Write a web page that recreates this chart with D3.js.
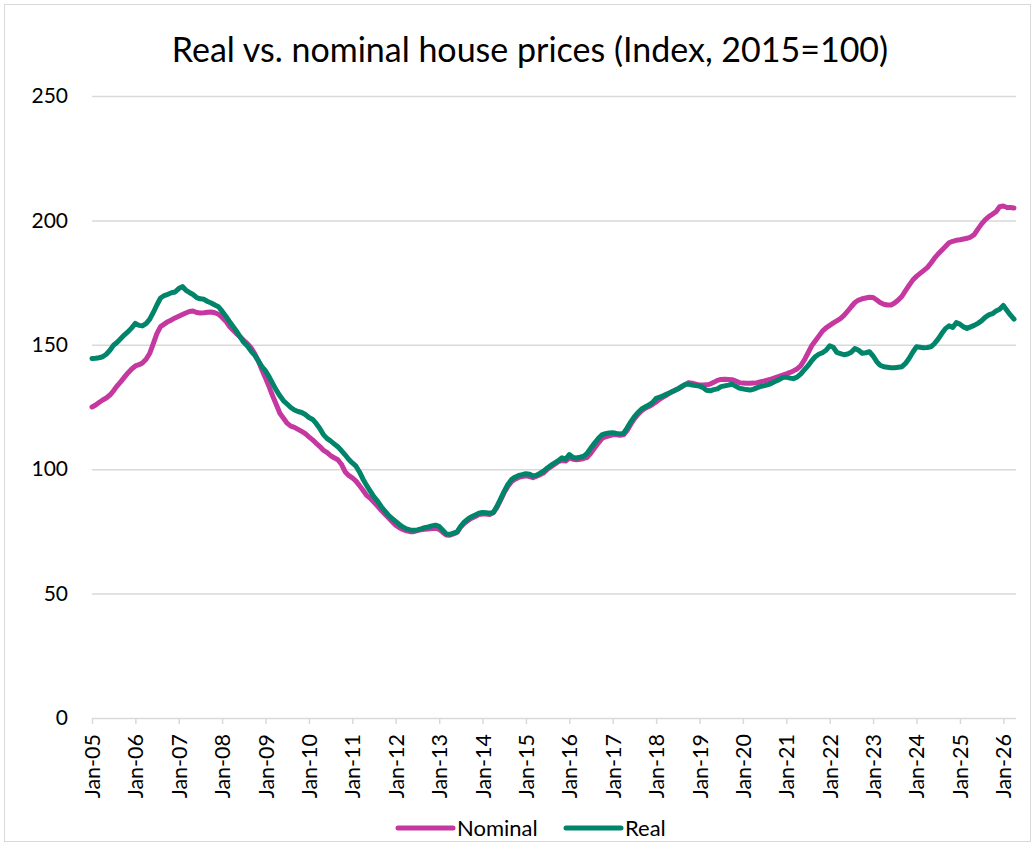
<!DOCTYPE html>
<html>
<head>
<meta charset="utf-8">
<script src="https://cdn.jsdelivr.net/npm/d3@7"></script>
<style>
  body { margin: 0; background: #fff; }
  svg text { font-family: Lato, "Open Sans", sans-serif; fill: #000; }
</style>
</head>
<body>
<svg id="chart" width="1035" height="846"></svg>
<script>
// monthly index values, Jan-05 .. Apr-26 (2015=100)
var nominal = [
  125.0, 125.8, 126.8, 127.8, 128.6, 129.8, 131.5, 133.5, 135.2, 137.0, 138.8, 140.3, // 2005
  141.5, 142.0, 142.7, 144.2, 146.5, 150.5, 154.5, 157.3, 158.3, 159.3, 160.0, 160.8, // 2006
  161.5, 162.2, 162.8, 163.4, 163.6, 163.0, 162.8, 162.9, 163.1, 163.2, 162.9, 162.3, // 2007
  161.0, 159.5, 157.5, 156.0, 154.5, 153.2, 151.8, 150.5, 148.8, 146.5, 143.5, 140.0, // 2008
  136.5, 133.0, 129.5, 126.0, 122.5, 120.5, 118.5, 117.3, 116.8, 116.0, 115.2, 114.3, // 2009
  113.0, 111.8, 110.5, 109.2, 107.7, 106.8, 105.5, 104.6, 103.8, 102.0, 99.0, 97.5,   // 2010
  96.5, 95.2, 93.5, 91.5, 89.5, 88.3, 86.8, 85.2, 83.5, 82.0, 80.5, 79.0,             // 2011
  77.5, 76.5, 75.8, 75.2, 74.9, 74.9, 75.3, 75.7, 75.9, 76.0, 76.2, 76.3,             // 2012
  75.8, 74.6, 73.6, 73.5, 74.0, 74.6, 76.8, 78.3, 79.4, 80.3, 81.0, 81.8,             // 2013
  82.0, 82.0, 81.8, 82.5, 84.5, 87.5, 90.5, 93.0, 95.0, 96.0, 96.7, 97.0,             // 2014
  97.3, 97.0, 96.6, 97.2, 97.8, 98.6, 100.0, 101.0, 102.0, 103.0, 103.5, 103.3,       // 2015
  104.5, 104.0, 103.8, 104.0, 104.3, 104.8, 106.5, 108.5, 110.5, 112.3, 113.0, 113.4, // 2016
  113.8, 113.8, 113.6, 113.8, 115.5, 118.0, 120.2, 122.0, 123.5, 124.5, 125.2, 126.0, // 2017
  127.0, 128.2, 129.0, 129.8, 130.8, 131.5, 132.2, 133.0, 134.0, 134.8, 134.6, 134.2, // 2018
  133.8, 133.8, 133.9, 134.2, 134.9, 135.7, 136.1, 136.2, 136.1, 136.0, 135.5, 134.8, // 2019
  134.6, 134.5, 134.5, 134.6, 134.8, 135.2, 135.5, 135.9, 136.3, 136.8, 137.3, 137.8, // 2020
  138.3, 138.9, 139.5, 140.3, 141.5, 143.8, 146.6, 149.5, 151.5, 153.5, 155.5, 156.8, // 2021
  157.8, 158.8, 159.6, 160.5, 161.8, 163.5, 165.3, 167.0, 168.0, 168.5, 168.8, 169.1, // 2022
  169.0, 168.0, 167.0, 166.3, 166.0, 166.0, 166.8, 168.0, 169.5, 171.8, 174.0, 176.0, // 2023
  177.5, 178.7, 179.8, 181.0, 182.8, 184.8, 186.5, 188.0, 189.5, 191.0, 191.6, 192.0, // 2024
  192.2, 192.5, 192.8, 193.3, 194.3, 196.5, 198.5, 200.2, 201.5, 202.5, 203.5, 205.5, // 2025
  205.8, 205.2, 205.2, 205.0                                                          // 2026
];

var real = [
  144.5, 144.6, 144.8, 145.2, 146.2, 147.8, 149.8, 151.0, 152.5, 154.0, 155.3, 156.8, // 2005
  158.6, 157.8, 157.6, 158.5, 160.2, 163.0, 166.0, 168.8, 169.8, 170.3, 170.9, 171.2, // 2006
  172.6, 173.4, 172.0, 171.0, 170.2, 169.0, 168.5, 168.3, 167.4, 166.8, 166.0, 165.3, // 2007
  163.5, 161.5, 159.5, 157.5, 155.5, 153.2, 151.0, 149.5, 147.5, 145.8, 143.5, 141.2, // 2008
  139.5, 137.0, 134.5, 131.8, 129.5, 127.5, 126.2, 124.8, 123.8, 123.2, 122.8, 122.0, // 2009
  120.8, 120.0, 118.5, 116.5, 114.0, 112.4, 111.4, 110.2, 109.0, 107.5, 105.8, 104.0, // 2010
  102.5, 101.2, 99.0, 96.0, 93.5, 91.2, 89.0, 87.2, 85.0, 83.2, 81.5, 80.2,           // 2011
  79.0, 77.8, 76.8, 76.0, 75.6, 75.5, 75.6, 76.0, 76.5, 76.8, 77.2, 77.5,             // 2012
  77.0, 75.5, 74.0, 73.8, 74.3, 74.8, 77.0, 78.8, 80.0, 80.9, 81.6, 82.3,             // 2013
  82.6, 82.5, 82.3, 82.6, 85.0, 88.0, 91.0, 93.8, 95.8, 96.8, 97.5, 97.8,             // 2014
  98.2, 98.0, 97.2, 97.6, 98.4, 99.3, 100.5, 101.6, 102.5, 103.4, 104.6, 104.0,       // 2015
  105.9, 104.7, 104.5, 104.8, 105.2, 106.5, 108.5, 110.5, 112.3, 113.8, 114.3, 114.6, // 2016
  114.7, 114.4, 114.2, 114.4, 116.5, 119.0, 121.0, 122.8, 124.2, 125.0, 125.8, 126.8, // 2017
  128.5, 129.0, 129.5, 130.2, 130.8, 131.5, 132.2, 133.2, 134.0, 134.2, 133.8, 133.6, // 2018
  133.4, 132.8, 131.7, 131.5, 132.0, 132.3, 133.2, 133.5, 133.8, 134.2, 133.4, 132.6, // 2019
  132.3, 132.0, 131.8, 132.2, 132.8, 133.3, 133.6, 134.0, 134.6, 135.3, 136.0, 136.8, // 2020
  137.0, 136.6, 136.4, 137.0, 138.2, 139.9, 141.5, 143.5, 145.2, 146.2, 146.8, 147.8, // 2021
  149.6, 149.0, 147.0, 146.5, 146.0, 146.3, 147.0, 148.5, 147.8, 146.6, 146.8, 147.2, // 2022
  145.5, 143.2, 141.8, 141.2, 141.0, 140.8, 140.8, 141.0, 141.2, 142.5, 144.6, 147.0, // 2023
  149.2, 149.0, 148.8, 148.9, 149.2, 150.5, 152.3, 154.5, 156.5, 157.6, 157.0, 158.9, // 2024
  158.3, 157.2, 156.6, 157.2, 157.8, 158.6, 159.6, 161.0, 162.0, 162.5, 163.6, 164.3, // 2025
  165.8, 163.8, 162.0, 160.3                                                          // 2026
];

var seriesNames = ["Nominal", "Real"];
var seriesColors = ["#c538a0", "#00846a"];
var yTicks = [0, 50, 100, 150, 200, 250];
var titleText = "Real vs. nominal house prices (Index, 2015=100)";

var months = d3.timeMonth.range(new Date(2005, 0, 1), new Date(2026, 4, 1));

var svg = d3.select("#chart");
var margin = { left: 92, right: 1014, top: 96, bottom: 718 };

svg.append("rect")
  .attr("x", 4.5).attr("y", 4.5)
  .attr("width", 1026).attr("height", 837)
  .attr("fill", "#fff")
  .attr("stroke", "#d9d9d9");

var x = d3.scaleTime()
  .domain([months[0], months[months.length - 1]])
  .range([margin.left, margin.right]);

var y = d3.scaleLinear()
  .domain([0, 250])
  .range([margin.bottom, margin.top]);

// title
svg.append("text")
  .attr("x", 530).attr("y", 62)
  .attr("text-anchor", "middle")
  .style("font-size", "34px")
  .text(titleText);

// gridlines + y labels
var yAxis = svg.append("g")
  .attr("transform", "translate(" + margin.left + ",0)")
  .call(d3.axisLeft(y).tickValues(yTicks).tickSize(-(1016 - margin.left)).tickPadding(24));
yAxis.select(".domain").remove();
yAxis.selectAll(".tick line").attr("stroke", "#d9d9d9").attr("stroke-width", 1.5);
yAxis.selectAll(".tick text").style("font-size", "21px").style("font-family", "Lato, sans-serif").attr("fill", "#000");

// x axis
var xAxis = svg.append("g")
  .attr("transform", "translate(0," + margin.bottom + ")")
  .call(d3.axisBottom(x)
    .ticks(d3.timeYear.every(1))
    .tickFormat(d3.timeFormat("Jan-%y"))
    .tickSize(6));
xAxis.select(".domain").remove();
xAxis.selectAll(".tick line").attr("stroke", "#d9d9d9").attr("stroke-width", 1.5);
xAxis.selectAll(".tick text")
  .style("font-size", "21.5px")
  .style("font-family", "Lato, sans-serif")
  .attr("fill", "#000")
  .attr("transform", "rotate(-90)")
  .attr("text-anchor", "end")
  .attr("x", -16).attr("y", 0).attr("dy", "0.35em");

// lines
var line = d3.line()
  .x(function (d, i) { return x(months[i]); })
  .y(function (d) { return y(d); });

[nominal, real].forEach(function (vals, k) {
  svg.append("path")
    .datum(vals)
    .attr("fill", "none")
    .attr("stroke", seriesColors[k])
    .attr("stroke-width", 5)
    .attr("stroke-linejoin", "round")
    .attr("stroke-linecap", "round")
    .attr("d", line);
});

// legend
var legendX = [398, 566];
seriesNames.forEach(function (name, k) {
  var g = svg.append("g").attr("transform", "translate(" + legendX[k] + ",828)");
  g.append("line")
    .attr("x1", 0).attr("x2", 55)
    .attr("stroke", seriesColors[k])
    .attr("stroke-width", 5)
    .attr("stroke-linecap", "round");
  g.append("text")
    .attr("x", 59).attr("dy", "0.35em")
    .style("font-size", "22px")
    .text(name);
});
</script>
</body>
</html>
